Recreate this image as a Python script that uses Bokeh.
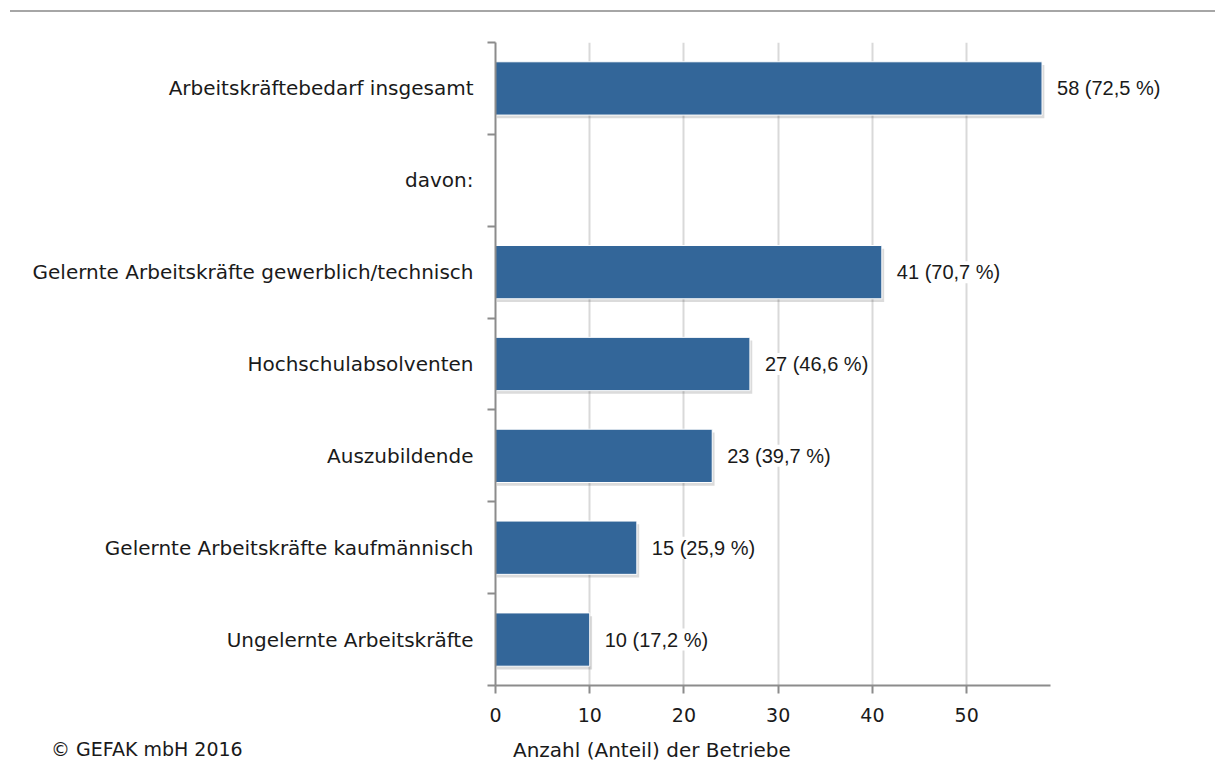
from bokeh.plotting import figure
from bokeh.models import (Range1d, FixedTicker, ColumnDataSource, LabelSet, Div)
from bokeh.core.properties import value
from bokeh.layouts import column
from bokeh.embed import file_html
from bokeh.resources import INLINE

categories = [
    "Arbeitskräftebedarf insgesamt",
    "davon:",
    "Gelernte Arbeitskräfte gewerblich/technisch",
    "Hochschulabsolventen",
    "Auszubildende",
    "Gelernte Arbeitskräfte kaufmännisch",
    "Ungelernte Arbeitskräfte",
]
values = [58, None, 41, 27, 23, 15, 10]
value_labels = ["58 (72,5 %)", "", "41 (70,7 %)", "27 (46,6 %)", "23 (39,7 %)", "15 (25,9 %)", "10 (17,2 %)"]
x_ticks = [0, 10, 20, 30, 40, 50]
x_axis_max = 58.9
x_title = "Anzahl (Anteil) der Betriebe"
copyright_text = "© GEFAK mbH 2016"

FONT = "DejaVu Sans"
VFONT = "Liberation Sans"
TXT = "#1a1a1a"
AX = "#8c8c8c"
n = len(categories)
centers = [n - i - 0.5 for i in range(n)]

bars_y = [c for c, v in zip(centers, values) if v is not None]
bars_v = [v for v in values if v is not None]
bars_l = [l for l, v in zip(value_labels, values) if v is not None]

src = ColumnDataSource(dict(y=bars_y, v=bars_v, lab=bars_l,
                            ys=[y - 0.035 for y in bars_y],
                            vs=[v + 0.25 for v in bars_v]))

# layout in pixels: frame left 495, right 1205; 0..58.9 maps to 495..1050
px_per_unit = (1050 - 495) / x_axis_max
x_range_max = (1205 - 495) / px_per_unit

p = figure(width=1209, height=713, output_backend="svg", toolbar_location=None,
           x_range=Range1d(0, x_range_max), y_range=Range1d(0, n),
           min_border_left=495, min_border_right=4, min_border_top=24, min_border_bottom=46)
p.outline_line_color = None
p.background_fill_color = "white"
p.border_fill_color = "white"

# grid
p.xgrid.ticker = FixedTicker(ticks=x_ticks[1:])
p.xgrid.grid_line_color = "#d9d9d9"
p.xgrid.grid_line_width = 2
p.ygrid.grid_line_color = None

# shadow + bars
p.hbar(y="ys", left=0.15, right="vs", height=0.58, source=src,
       fill_color="#000000", fill_alpha=0.14, line_color=None)
p.hbar(y="y", left=0, right="v", height=0.58, source=src,
       fill_color="#336699", line_color="white", line_width=1)

# x axis
xa = p.xaxis[0]
xa.ticker = FixedTicker(ticks=x_ticks)
xa.bounds = (0, x_axis_max)
xa.axis_line_color = AX
xa.axis_line_width = 2
xa.major_tick_line_color = AX
xa.major_tick_line_width = 2
xa.major_tick_out = 8
xa.major_tick_in = 0
xa.minor_tick_line_color = None
xa.major_label_text_font = FONT
xa.major_label_text_font_size = "19px"
xa.major_label_text_color = TXT
xa.major_label_standoff = 14

# y axis
ya = p.yaxis[0]
ya.ticker = FixedTicker(ticks=centers, minor_ticks=list(range(n + 1)))
ya.major_label_overrides = {c: cat for c, cat in zip(centers, categories)}
ya.axis_line_color = AX
ya.axis_line_width = 2
ya.major_tick_line_color = None
ya.major_tick_in = 0
ya.major_tick_out = 0
ya.minor_tick_line_color = AX
ya.minor_tick_line_width = 2
ya.minor_tick_out = 8
ya.minor_tick_in = 0
ya.major_label_text_font = FONT
ya.major_label_text_font_size = "20px"
ya.major_label_text_color = TXT
ya.major_label_standoff = 14

# value labels
labels = LabelSet(x="v", y="y", text="lab", source=src, x_offset=15,
                  text_baseline="middle", text_align="left",
                  text_font=value(VFONT), text_font_size="20px", text_color=TXT,
                  background_fill_color="white")
p.add_layout(labels)

top = Div(text='<div style="position:absolute;top:5px;left:5px;width:1205px;height:2px;background:#a6a6a6"></div>',
          width=1209, height=8)

bottom = Div(text=(
    f'<div style="position:absolute;top:0px;left:46px;white-space:nowrap;font-family:\'{FONT}\';'
    f'font-size:19px;color:{TXT}">{copyright_text}</div>'
    f'<div style="position:absolute;top:0px;left:508px;white-space:nowrap;font-family:\'{FONT}\';'
    f'font-size:20px;color:{TXT}">{x_title}</div>'),
    width=1209, height=30)

layout = column(top, p, bottom)
open("out.html", "w").write(file_html(layout, INLINE))
